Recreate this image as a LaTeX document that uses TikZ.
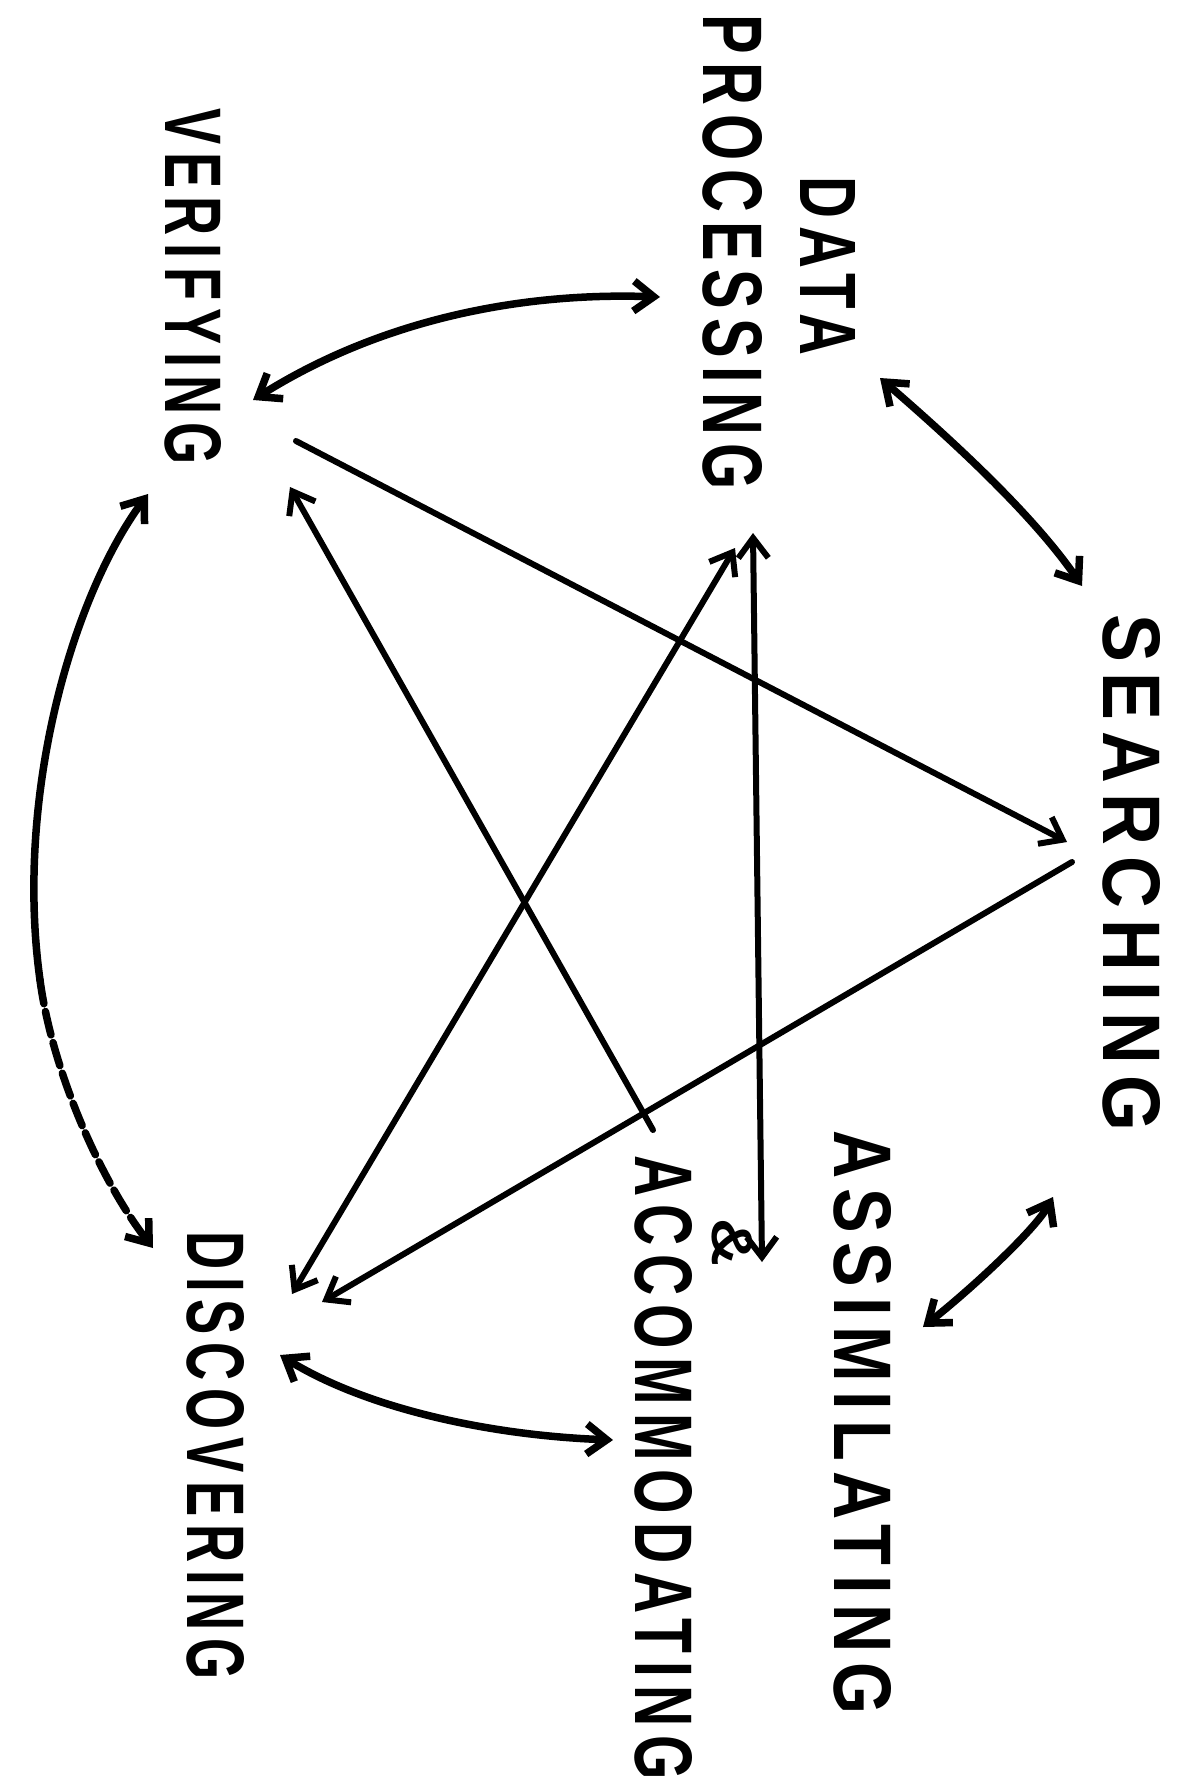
\documentclass[tikz,border=0pt]{standalone}
\usepackage{fontspec}
\usetikzlibrary{arrows.meta}
\newfontfamily\handfont[LetterSpace=15]{Liberation Sans}
\newcommand{\hlab}[3]{\resizebox{#1}{#2}{\handfont\bfseries #3}}
\begin{document}
\begin{tikzpicture}[x=1pt,y=-1pt,
  lbl/.style={inner sep=0pt, outer sep=0pt, rotate=-90, anchor=south west},
  conn/.style={line width=6pt, line cap=round, line join=round},
  thick conn/.style={conn, line width=7.5pt},
  >={Straight Barb[length=20pt,width=30pt]}]
\fill[white] (0,0) rectangle (1187,1780);
\useasboundingbox (0,0) rectangle (1187,1780);

% labels
\node[lbl] (search) at (1103,614)  {\hlab{517pt}{57pt}{SEARCHING}};
\node[lbl] (data)   at (800,176)   {\hlab{179pt}{55pt}{DATA}};
\node[lbl] (proc)   at (703,14)    {\hlab{476pt}{59pt}{PROCESSING}};
\node[lbl] (verif)  at (165,108)   {\hlab{357pt}{56pt}{VERIFYING}};
\node[lbl] (discov) at (187,1231)  {\hlab{449pt}{57pt}{DISCOVERING}};
\node[lbl] (assim)  at (834,1130)  {\hlab{584pt}{57pt}{ASSIMILATING}};
\node[lbl] (amp)    at (712,1218)  {\hlab{48pt}{40pt}{\&}};
\node[lbl] (accom)  at (635,1155)  {\hlab{625pt}{57pt}{ACCOMMODATING}};

% connector end points
\coordinate (dA)  at (880,378);
\coordinate (sA)  at (1082,586);
\coordinate (pV)  at (660,297);
\coordinate (vP)  at (253,400);
\coordinate (vD)  at (148,494);
\coordinate (vdM) at (40,980);
\coordinate (dV)  at (153,1248);
\coordinate (dAc) at (280,1355);
\coordinate (acD) at (613,1440);
\coordinate (sAs) at (1053,1197);
\coordinate (asS) at (923,1327);
\coordinate (vS)  at (296,441);
\coordinate (sV)  at (1067,842);
\coordinate (acV) at (653,1130);
\coordinate (vAc) at (290,487);
\coordinate (pD)  at (735,548);
\coordinate (dP)  at (292,1294);
\coordinate (sD)  at (1072,862);
\coordinate (dS)  at (322,1302);
\coordinate (pAm) at (753,533);
\coordinate (amP) at (762,1262);

% curved double arrows around the ring
\draw[thick conn,<->] (dA) .. controls (940,430) and (1030,510) .. (sA);
\draw[thick conn,<->] (pV) .. controls (520,292) and (380,320) .. (vP);
\draw[thick conn,<-] (vD) .. controls (70,600) and (15,800) .. (vdM);
\draw[thick conn,->,dash pattern=on 24pt off 8pt] (vdM) .. controls (52,1070) and (100,1180) .. (dV);
\draw[thick conn,<->] (dAc) .. controls (360,1405) and (480,1435) .. (acD);
\draw[thick conn,<->] (sAs) .. controls (1035,1230) and (970,1290) .. (asS);

% straight connectors
\draw[conn,->] (vS) -- (sV);
\draw[conn,->] (acV) -- (vAc);
\draw[conn,<->] (pD) -- (dP);
\draw[conn,->] (sD) -- (dS);
\draw[conn,<->] (pAm) -- (amP);
\end{tikzpicture}
\end{document}
